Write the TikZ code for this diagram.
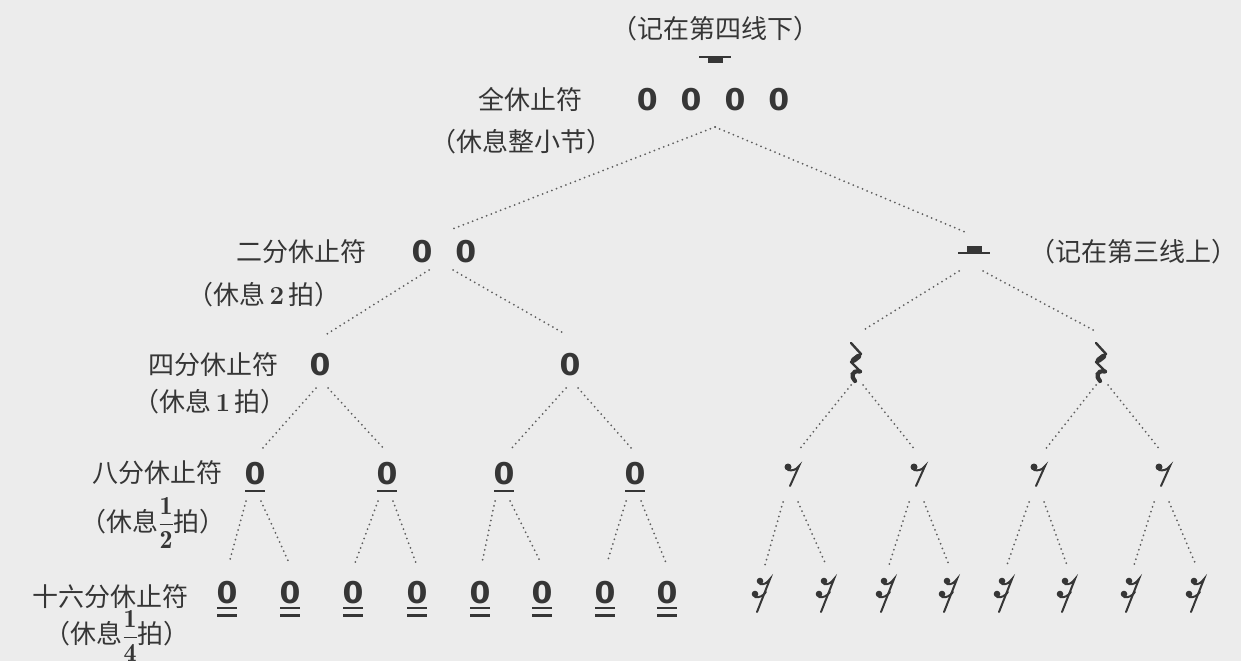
\documentclass[tikz,border=0pt]{standalone}
\usepackage{amsmath}
\usepackage{fontspec}
\usepackage{xcolor}
\usepackage{tikz}
\newfontfamily\cjk{Noto Sans CJK SC}
\newfontfamily\numfont{DejaVu Sans}
\definecolor{paper}{HTML}{ECECEC}
\definecolor{ink}{HTML}{363636}
\definecolor{dots}{HTML}{5E5E5E}
\tikzset{
  lbl/.style={text=ink, font=\cjk\fontsize{26}{30}\selectfont, inner sep=0pt, anchor=base},
  num/.style={text=ink, font=\numfont\bfseries\fontsize{30}{30}\selectfont, inner sep=0pt},
  dotline/.style={draw=dots, line width=2pt, dash pattern=on 0pt off 5pt, line cap=round},
  bar/.style={draw=ink, line width=2.2pt},
  staff/.style={draw=ink, line width=2pt},
  wholerest/.pic={
    \draw[staff] (-16,0) -- (16,0);
    \fill[ink] (-7.5,0) rectangle (7.5,-6);
  },
  halfrest/.pic={
    \draw[staff] (-16,0) -- (16,0);
    \fill[ink] (-7.5,0) rectangle (7.5,7);
  },
  quarterrest/.pic={
    \draw[ink, line cap=round, line join=round, line width=2.4pt] (-4,19) -- (6,8) -- (-4,0) -- (6,-10);
    \draw[ink, line cap=round, line width=5.5pt] (3.5,5.6) -- (-1.5,1.8);
    \draw[ink, line cap=round, line width=4.2pt] (5,-9.5) .. controls (-4,-8) and (-4,-15) .. (0,-19);
  },
  eighthrest/.pic={
    \fill[ink] (-4,8) circle (3.5);
    \draw[ink, line width=2pt, line cap=round] (-4,5) .. controls (0,4) and (4,5) .. (7,9) -- (-2,-11);
  },
  sixteenthrest/.pic={
    \fill[ink] (-3,14) circle (3.3);
    \fill[ink] (-8,1) circle (3.3);
    \draw[ink, line width=2pt, line cap=round] (-3,11) .. controls (1,10) and (4,12) .. (7,16) -- (-6,-17);
    \draw[ink, line width=2pt, line cap=round] (-8,-2) .. controls (-4,-3) and (0,-1) .. (3,3);
  }
}

\begin{document}
\begin{tikzpicture}[x=1pt, y=1pt]
  \useasboundingbox[fill=paper] (0,0) rectangle (1241,-661);

  % whole rest
  \node[lbl] (note4) at (715,-39) {（记在第四线下）};
  \pic at (715,-57) {wholerest};
  \node[num] (whole) at (713,-100) {0\hspace{23pt}0\hspace{23pt}0\hspace{23pt}0};
  \node[lbl] (wname) at (530,-109) {全休止符};
  \node[lbl] (wlen) at (521,-151) {（休息整小节）};

  % half rest
  \node[num] (half) at (444,-252) {0\hspace{23pt}0};
  \path (974,-253) coordinate (hr) pic {halfrest};
  \node[lbl] (hname) at (301,-261) {二分休止符};
  \node[lbl] (hlen) at (264,-304) {（休息\,{\rmfamily\bfseries 2}\,拍）};
  \node[lbl] (note3) at (1133,-261) {（记在第三线上）};
  \draw[dotline] ([shift={(2,-27)}]whole.center) -- ([shift={(6,22)}]half.center);
  \draw[dotline] ([shift={(2,-27)}]whole.center) -- ([shift={(-9,21)}]hr.center);

  % quarter rest
  \node[num] (q1) at (320,-365) {0};
  \node[num] (q2) at (570,-365) {0};
  \path (855,-362) coordinate (q3) pic {quarterrest};
  \path (1100,-362) coordinate (q4) pic {quarterrest};
  \node[lbl] (qname) at (213,-374) {四分休止符};
  \node[lbl] (qlen) at (210,-411) {（休息\,{\rmfamily\bfseries 1}\,拍）};
  \foreach \p/\a/\b in {half/q1/q2, hr/q3/q4} {
    \draw[dotline] ([shift={(-15,-18)}]\p.center) -- ([shift={(7,31)}]\a.center);
    \draw[dotline] ([shift={(9,-18)}]\p.center) -- ([shift={(-5,31)}]\b.center);
  }

  % eighth rest
  \foreach \i/\x in {1/255,2/387,3/504,4/635} {
    \node[num] (e\i) at (\x,-474) {0};
    \draw[bar] ([shift={(-10,-17)}]e\i.center) -- ++(20,0);
  }
  \foreach \i/\x in {5/792,6/918,7/1038,8/1163}
    \path (\x,-475) coordinate (e\i) pic {eighthrest};
  \node[lbl] (ename) at (157,-482) {八分休止符};
  \node[lbl] (elen) at (153,-531) {（休息$\dfrac{\mathbf{1}}{\mathbf{2}}$拍）};
  \foreach \p/\a/\b in {q1/e1/e2, q2/e3/e4, q3/e5/e6, q4/e7/e8} {
    \draw[dotline] ([shift={(-4,-23)}]\p.center) -- ([shift={(6,24)}]\a.center);
    \draw[dotline] ([shift={(8,-23)}]\p.center) -- ([shift={(-2,24)}]\b.center);
  }

  % sixteenth rest
  \foreach \i/\x in {1/227,2/290,3/353,4/417,5/480,6/542,7/605,8/667} {
    \node[num] (s\i) at (\x,-593) {0};
    \draw[bar] ([shift={(-10,-15)}]s\i.center) -- ++(20,0);
    \draw[bar] ([shift={(-10,-22.5)}]s\i.center) -- ++(20,0);
  }
  \foreach \i/\x in {9/763,10/827,11/887,12/950,13/1005,14/1068,15/1132,16/1197}
    \path (\x,-595) coordinate (s\i) pic {sixteenthrest};
  \node[lbl] (sname) at (110,-606) {十六分休止符};
  \node[lbl] (slen) at (117,-643) {（休息\raisebox{-1pt}{$\dfrac{\mathbf{1}}{\mathbf{4}}$}拍）};
  \foreach \p/\a/\b in {e1/s1/s2, e2/s3/s4, e3/s5/s6, e4/s7/s8, e5/s9/s10, e6/s11/s12, e7/s13/s14, e8/s15/s16} {
    \draw[dotline] ([shift={(-9,-27)}]\p.center) -- ([shift={(2,30)}]\a.center);
    \draw[dotline] ([shift={(6,-27)}]\p.center) -- ([shift={(-1,30)}]\b.center);
  }
\end{tikzpicture}
\end{document}
